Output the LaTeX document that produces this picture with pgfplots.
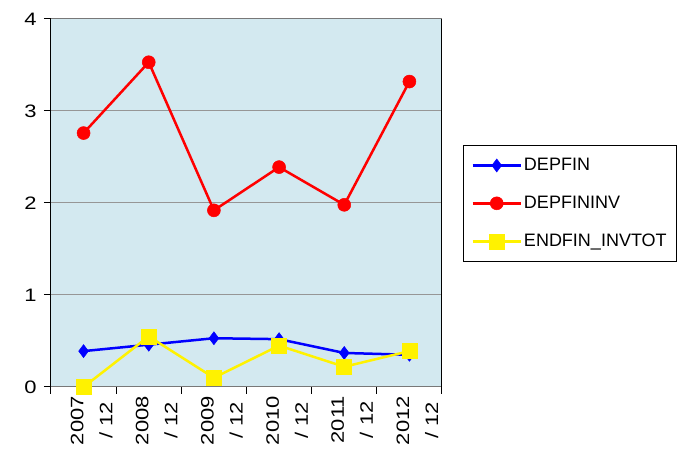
\documentclass[border=0pt]{standalone}
\usepackage{pgfplots}
\pgfplotsset{compat=1.18}
\usepackage{fontspec}
\setmainfont{Liberation Sans}
\newfontfamily\widefont[FakeStretch=1.22]{Liberation Sans}
\definecolor{plotbg}{RGB}{211,233,240}
\definecolor{gridgray}{RGB}{150,150,150}
\begin{document}
\begin{tikzpicture}
\path[use as bounding box] (-51pt,-67pt) rectangle (632pt,387pt);
\begin{axis}[
  at={(0,0)}, anchor=south west,
  scale only axis, width=391pt, height=368pt,
  xmin=-0.5, xmax=5.5, ymin=0, ymax=4,
  axis background/.style={fill=plotbg},
  separate axis lines,
  x axis line style={draw=gridgray!80!black, line width=1pt},
  y axis line style={draw=black, line width=1pt},
  tick pos=left,
  xtick={0,1,2,3,4,5},
  xticklabels={{2007\\/ 12},{2008\\/ 12},{2009\\/ 12},{2010\\/ 12},{2011\\/ 12},{2012\\/ 12}},
  minor xtick={-0.5,0.5,1.5,2.5,3.5,4.5,5.5},
  ytick={0,1,2,3,4},
  tick align=outside,
  x tick style={draw=none},
  minor x tick style={draw=black, line width=1pt},
  minor tick length=7pt,
  y tick style={draw=black, line width=1pt},
  major tick length=7pt,
  ymajorgrids, grid style={gridgray, line width=1pt},
  /pgf/number format/assume math mode=true,
  xticklabel style={rotate=90, anchor=east, align=center, font=\widefont\fontsize{18}{29}\selectfont, inner sep=2pt, yshift=-8pt},
  yticklabel style={font=\widefont\fontsize{18}{21}\selectfont, xshift=-4pt},
  legend style={at={(1,1)}, anchor=north west, xshift=21pt, yshift=-126pt,
    draw=black, line width=1pt, fill=white, font=\fontsize{18}{21}\selectfont,
    row sep=20pt, inner xsep=8pt, inner ysep=11pt, cells={anchor=west}},
  legend image code/.code={\draw[mark repeat=2,mark phase=2] plot coordinates {(0pt,0pt) (24pt,0pt) (48pt,0pt)};},
  clip=false,
]
\addplot[blue, line width=2.5pt, mark=diamond*, mark size=6.5pt, mark options={solid, fill=blue, line width=0.5pt}]
  coordinates {(0,0.39) (1,0.46) (2,0.53) (3,0.52) (4,0.37) (5,0.35)};
\addlegendentry{DEPFIN}
\addplot[red, line width=2.5pt, mark=*, mark size=6.5pt, mark options={solid, fill=red, line width=0.5pt}]
  coordinates {(0,2.76) (1,3.53) (2,1.92) (3,2.39) (4,1.98) (5,3.32)};
\addlegendentry{DEPFININV}
\addplot[yellow, line width=2.5pt, mark=square*, mark size=7.5pt, mark options={solid, fill=yellow, line width=0.5pt}]
  coordinates {(0,0.0) (1,0.55) (2,0.10) (3,0.45) (4,0.22) (5,0.39)};
\addlegendentry{ENDFIN\_INVTOT}
\end{axis}
\end{tikzpicture}
\end{document}
